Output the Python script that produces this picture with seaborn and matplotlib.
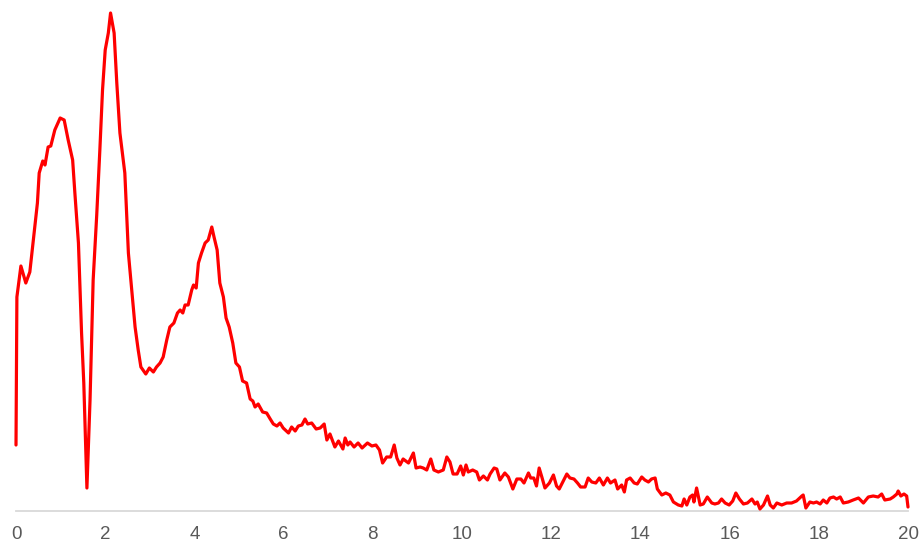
import matplotlib
matplotlib.use("Agg")
import matplotlib.pyplot as plt
import seaborn as sns
import pandas as pd

x_vals = [0.00, 0.02, 0.11, 0.22, 0.31, 0.39, 0.48, 0.52, 0.60, 0.65, 0.72, 0.78, 0.87, 0.99,
          1.08, 1.17, 1.27, 1.32, 1.40, 1.47, 1.52, 1.59, 1.66, 1.73, 1.81, 1.88, 1.94, 2.00,
          2.07, 2.12, 2.20, 2.26, 2.33, 2.44, 2.52, 2.59, 2.67, 2.74, 2.80, 2.91, 2.99, 3.08,
          3.15, 3.23, 3.30, 3.38, 3.45, 3.54, 3.62, 3.68, 3.74, 3.79, 3.86, 3.94, 3.98, 4.04,
          4.09, 4.16, 4.24, 4.31, 4.39, 4.44, 4.51, 4.57, 4.65, 4.71, 4.78, 4.86, 4.93, 5.01,
          5.08, 5.17, 5.25, 5.31, 5.36, 5.43, 5.53, 5.62, 5.70, 5.77, 5.85, 5.92, 5.99, 6.11,
          6.18, 6.26, 6.33, 6.41, 6.48, 6.54, 6.63, 6.73, 6.82, 6.91, 6.97, 7.04, 7.15, 7.23,
          7.33, 7.38, 7.44, 7.49, 7.58, 7.67, 7.76, 7.88, 7.98, 8.07, 8.15, 8.22, 8.31, 8.40,
          8.48, 8.54, 8.61, 8.68, 8.80, 8.91, 8.97, 9.06, 9.13, 9.21, 9.30, 9.37, 9.47, 9.58,
          9.66, 9.73, 9.80, 9.89, 9.97, 10.03, 10.09, 10.14, 10.24, 10.33, 10.39, 10.48, 10.57,
          10.63, 10.72, 10.78, 10.85, 10.96, 11.04, 11.14, 11.23, 11.32, 11.39, 11.49, 11.54,
          11.61, 11.67, 11.73, 11.79, 11.86, 11.96, 12.05, 12.12, 12.18, 12.26, 12.35, 12.42,
          12.51, 12.59, 12.66, 12.76, 12.83, 12.91, 13.00, 13.08, 13.17, 13.26, 13.33, 13.43,
          13.49, 13.58, 13.64, 13.69, 13.77, 13.86, 13.93, 14.03, 14.10, 14.18, 14.25, 14.33,
          14.38, 14.48, 14.57, 14.66, 14.74, 14.85, 14.93, 14.98, 15.04, 15.11, 15.17, 15.20,
          15.26, 15.34, 15.41, 15.50, 15.60, 15.67, 15.75, 15.82, 15.90, 15.99, 16.07, 16.14,
          16.22, 16.31, 16.40, 16.50, 16.57, 16.62, 16.68, 16.76, 16.85, 16.91, 16.98, 17.06,
          17.17, 17.28, 17.39, 17.50, 17.62, 17.65, 17.71, 17.80, 17.88, 17.95, 18.03, 18.10,
          18.18, 18.25, 18.33, 18.40, 18.48, 18.55, 18.66, 18.77, 18.89, 19.00, 19.11, 19.22,
          19.33, 19.41, 19.48, 19.60, 19.67, 19.75, 19.78, 19.84, 19.91, 19.97, 20.00]

y_vals = [66, 214, 245, 228, 239, 271, 308, 338, 350, 346, 364, 365, 381, 393,
          391, 371, 351, 318, 268, 178, 128, 23, 111, 231, 296, 361, 421, 461,
          478, 498, 478, 428, 378, 338, 258, 224, 184, 161, 144, 137, 143, 139,
          144, 148, 154, 171, 184, 188, 198, 201, 198, 206, 206, 221, 226, 223,
          248, 258, 268, 271, 284, 274, 261, 228, 214, 193, 184, 168, 148, 144,
          130, 128, 112, 110, 104, 107, 99, 98, 92, 87, 85, 88, 83, 78,
          84, 80, 85, 86, 92, 87, 88, 82, 83, 87, 71, 77, 64, 70,
          62, 73, 66, 69, 64, 68, 63, 68, 65, 66, 61, 48, 54, 54,
          66, 53, 46, 52, 48, 58, 43, 44, 43, 41, 52, 41, 39, 41,
          54, 49, 37, 37, 45, 36, 46, 39, 41, 39, 31, 35, 31,
          37, 43, 42, 31, 38, 34, 22, 32, 32, 28, 38, 33,
          33, 25, 43, 34, 23, 28, 36, 25, 22, 29, 37, 33,
          32, 28, 24, 24, 33, 29, 28, 33, 26, 33, 28, 31,
          22, 26, 19, 31, 33, 28, 27, 34, 31, 29, 32, 33,
          22, 16, 18, 16, 9, 6, 5, 12, 6, 14, 16, 9,
          23, 6, 7, 14, 8, 7, 8, 12, 8, 6, 10, 18,
          12, 7, 8, 12, 7, 9, 2, 6, 15, 6, 3, 8,
          6, 8, 8, 10, 15, 16, 3, 9, 8, 9, 7, 11,
          8, 13, 14, 12, 14, 8, 9, 11, 13, 8, 14, 15,
          14, 17, 11, 12, 14, 17, 20, 15, 17, 15, 4]

x_ticks = [0, 2, 4, 6, 8, 10, 12, 14, 16, 18, 20]
x_tick_labels = ["0", "2", "4", "6", "8", "10", "12", "14", "16", "18", "20"]

df = pd.DataFrame({"x": x_vals, "y": y_vals})

sns.set_style("white")
plt.rcParams["font.family"] = ["Liberation Sans Narrow", "Liberation Sans", "DejaVu Sans"]

fig = plt.figure(figsize=(9.22, 5.46), dpi=100)
ax = fig.add_axes([16 / 922, 35 / 546, 892 / 922, 511 / 546])

sns.lineplot(data=df, x="x", y="y", ax=ax, color="#FF0000", linewidth=2.3,
             sort=False, estimator=None)
for ln in ax.get_lines():
    ln.set_clip_on(False)
    ln.set_solid_joinstyle("round")

ax.set_xlim(0, 20)
ax.set_ylim(0, 511)
ax.set_xticks(x_ticks)
ax.set_xticklabels(x_tick_labels)
ax.set_yticks([])
ax.set_xlabel("")
ax.set_ylabel("")
for side in ["top", "right", "left"]:
    ax.spines[side].set_visible(False)
ax.spines["bottom"].set_color("#D9D9D9")
ax.spines["bottom"].set_linewidth(1.3)
ax.spines["bottom"].set_zorder(0)
ax.tick_params(axis="x", length=0, pad=11, labelsize=13.5, labelcolor="#595959")
ax.patch.set_alpha(0)

fig.savefig("out.png", dpi=100, facecolor="white")
